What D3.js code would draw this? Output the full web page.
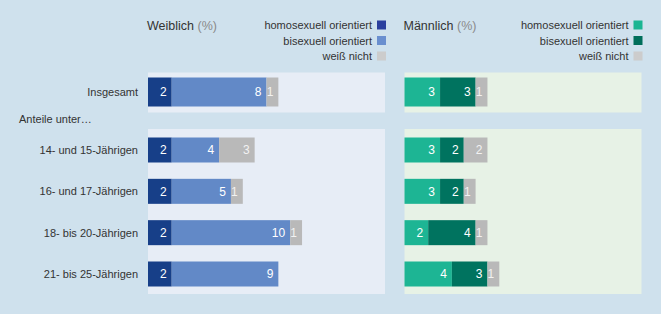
<!DOCTYPE html>
<html>
<head>
<meta charset="utf-8">
<script src="https://cdn.jsdelivr.net/npm/d3@7"></script>
<style>
  html, body { margin: 0; padding: 0; background: #cfe1ed; }
  svg { display: block; font-family: "Liberation Sans", Arial, sans-serif; }
</style>
</head>
<body>
<div id="chart"></div>
<script>
const categories = ["Insgesamt", "14- und 15-Jährigen", "16- und 17-Jährigen", "18- bis 20-Jährigen", "21- bis 25-Jährigen"];
const seriesNames = ["homosexuell orientiert", "bisexuell orientiert", "weiß nicht"];
const femaleHomo = [2, 2, 2, 2, 2];
const femaleBi = [8, 4, 5, 10, 9];
const femaleUnsure = [1, 3, 1, 1, 0];
const maleHomo = [3, 3, 3, 2, 4];
const maleBi = [3, 2, 2, 4, 3];
const maleUnsure = [1, 2, 1, 1, 1];
const groupLabel = "Anteile unter…";

const width = 661, height = 314;

const svg = d3.select('#chart')
  .append('svg')
  .attr('width', width)
  .attr('height', height)
  .attr('viewBox', `0 0 ${width} ${height}`);

svg.append('rect').attr('width', width).attr('height', height).attr('fill', '#cfe1ed');

// rows: first one is the total, the rest are age groups
const yTotal = 92;
const yAge = d3.scalePoint().domain(categories.slice(1)).range([150, 274]);
const rowY = c => c === categories[0] ? yTotal : yAge(c);
const barH = c => c === categories[0] ? 29 : 25;

// category labels
svg.append('g')
  .attr('font-size', 11)
  .attr('fill', '#333')
  .attr('text-anchor', 'end')
  .selectAll('text')
  .data(categories)
  .join('text')
  .attr('x', 138)
  .attr('y', d => rowY(d))
  .attr('dy', '0.35em')
  .text(d => d);

svg.append('text')
  .attr('x', 19).attr('y', 122.5)
  .attr('font-size', 11).attr('fill', '#333')
  .text(groupLabel);

function panel(x0, title, colors, legendColors, panelFill, series) {
  const x = d3.scaleLinear().domain([0, 20]).range([x0, x0 + 237]);
  const right = x(20);

  // panel backgrounds
  svg.append('rect')
    .attr('x', x(0)).attr('y', 72.5).attr('width', right - x(0)).attr('height', 40)
    .attr('fill', panelFill);
  svg.append('rect')
    .attr('x', x(0)).attr('y', 129).attr('width', right - x(0)).attr('height', 165)
    .attr('fill', panelFill);

  // title
  const t = svg.append('text')
    .attr('x', x(0) - 1).attr('y', 30)
    .attr('font-size', 12.5).attr('fill', '#333');
  t.append('tspan').text(title + ' ');
  t.append('tspan').attr('fill', '#8a8a8a').text('(%)');

  // legend
  const lg = svg.append('g').attr('font-size', 11).attr('fill', '#333');
  seriesNames.forEach((name, i) => {
    const ly = 29 + i * 15.5;
    lg.append('rect')
      .attr('x', right - 8).attr('y', ly - 8.5)
      .attr('width', 9).attr('height', 9)
      .attr('fill', legendColors[i]);
    lg.append('text')
      .attr('x', right - 13).attr('y', ly)
      .attr('text-anchor', 'end')
      .text(name);
  });

  // stacked bars
  const rows = categories.map((c, i) => {
    const r = { cat: c };
    seriesNames.forEach((s, j) => { r[s] = series[j][i]; });
    return r;
  });
  const stacked = d3.stack().keys(seriesNames)(rows);

  stacked.forEach((layer, j) => {
    const g = svg.append('g');
    g.selectAll('rect')
      .data(layer.filter(d => d[1] > d[0]))
      .join('rect')
      .attr('x', d => x(d[0]))
      .attr('y', d => rowY(d.data.cat) - barH(d.data.cat) / 2)
      .attr('width', d => x(d[1]) - x(d[0]))
      .attr('height', d => barH(d.data.cat))
      .attr('fill', colors[j]);
    g.selectAll('text')
      .data(layer.filter(d => d[1] > d[0]))
      .join('text')
      .attr('x', d => x(d[1]) - 5)
      .attr('y', d => rowY(d.data.cat))
      .attr('dy', '0.36em')
      .attr('text-anchor', 'end')
      .attr('font-size', 12)
      .attr('fill', j === 2 ? '#f2f2f2' : '#fff')
      .text(d => d[1] - d[0]);
  });
}

panel(148, 'Weiblich',
  ['#173f88', '#6289c7', '#b9b9b9'],
  ['#2b3f9e', '#6a8fcf', '#cccccc'],
  '#e7edf6',
  [femaleHomo, femaleBi, femaleUnsure]);

panel(404.5, 'Männlich',
  ['#1db594', '#00735f', '#b9b9b9'],
  ['#1ab592', '#006e5a', '#cccccc'],
  '#e7f2e6',
  [maleHomo, maleBi, maleUnsure]);
</script>
</body>
</html>
